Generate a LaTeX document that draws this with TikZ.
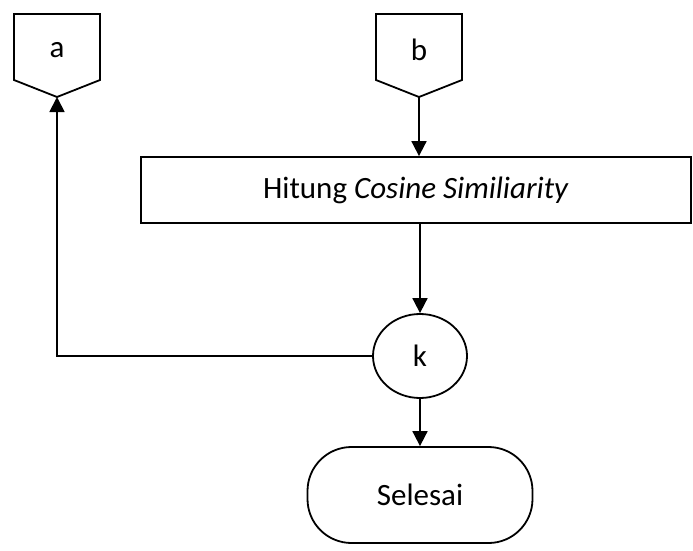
\documentclass[tikz,border=0pt]{standalone}
\usepackage{fontspec}
\setmainfont{Carlito}
\usetikzlibrary{arrows.meta,shapes.geometric}
\tikzset{
  line/.style={line width=1.8pt, draw=black},
  flow/.style={line, -{Triangle[length=15pt,width=15pt]}},
  lbl/.style={font=\fontsize{31}{37}\selectfont, inner sep=0pt},
  procbox/.style={line, rectangle, minimum width=550pt, minimum height=66pt, lbl},
  decision/.style={line, ellipse, minimum width=94pt, minimum height=84pt, lbl},
  terminal/.style={line, rectangle, rounded corners=44pt, minimum width=225pt, minimum height=96pt, lbl},
  offpage/.style={line, fill=white, line join=miter},
}
\begin{document}
\begin{tikzpicture}[x=1pt,y=-1pt]
\useasboundingbox (0,0) rectangle (693,551);

% off-page connector a
\draw[offpage] (14,14) -- (100,14) -- (100,80) -- (57,97) -- (14,80) -- cycle;
\node[lbl] (a) at (57,50) {a};
\coordinate (atip) at (57,97);

% off-page connector b
\draw[offpage] (376,14) -- (462,14) -- (462,80) -- (419,97) -- (376,80) -- cycle;
\node[lbl] (b) at (419,50) {b};
\coordinate (btip) at (419,97);

% process, decision and end
\node[procbox] (hit) at (416,190) {Hitung \textit{Cosine Similiarity}};
\node[decision] (k) at (420,356) {k};
\node[terminal] (end) at (420,495) {Selesai};

% connectors
\draw[flow] (btip) -- (btip |- hit.north);
\draw[flow] (k.north |- hit.south) -- (k.north);
\draw[flow] (k.south) -- (end.north);
\draw[flow] (k.west) -| (atip);
\end{tikzpicture}
\end{document}
